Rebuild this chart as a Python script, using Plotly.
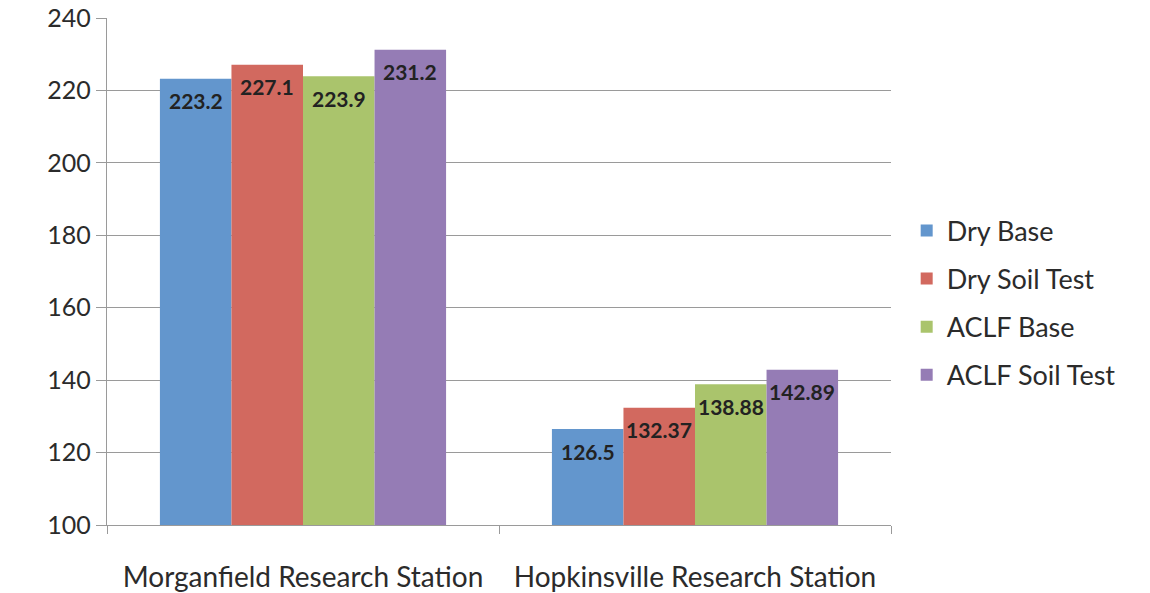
import plotly.graph_objects as go

stations = ["Morganfield Research Station", "Hopkinsville Research Station"]
series_names = ["Dry Base", "Dry Soil Test", "ACLF Base", "ACLF Soil Test"]
dry_base = [223.2, 126.5]
dry_soil = [227.1, 132.37]
aclf_base = [223.9, 138.88]
aclf_soil = [231.2, 142.89]
labels_dry_base = ["223.2", "126.5"]
labels_dry_soil = ["227.1", "132.37"]
labels_aclf_base = ["223.9", "138.88"]
labels_aclf_soil = ["231.2", "142.89"]
colors = ["#6396CD", "#D2695F", "#AAC46C", "#957CB5"]

values = [dry_base, dry_soil, aclf_base, aclf_soil]
labels = [labels_dry_base, labels_dry_soil, labels_aclf_base, labels_aclf_soil]

W, H = 1150, 593
ML, MR, MT, MB = 107, 259, 18, 68
BARGAP = 0.27
plot_w = W - ML - MR
n_series = len(series_names)
bar_px = plot_w / len(stations) * (1 - BARGAP) / n_series

fig = go.Figure()
for i, (name, vals, labs, col) in enumerate(zip(series_names, values, labels, colors)):
    fig.add_trace(go.Bar(
        name=name, x=stations, y=[v - 100 for v in vals], base=100,
        marker=dict(color=col, line=dict(width=0)),
        legendgroup=name,
        hoverinfo="skip",
    ))
    for st, v, lab in zip(stations, vals, labs):
        fig.add_annotation(
            x=st, y=v, xref="x", yref="y", text=lab, showarrow=False,
            xshift=(i - (n_series - 1) / 2) * bar_px, yshift=-22,
            yanchor="middle", xanchor="center",
            font=dict(family="Lato", size=21, color="#222222", weight="bold"),
        )

fig.update_layout(
    width=W, height=H,
    margin=dict(l=ML, r=MR, t=MT, b=MB, autoexpand=False),
    barmode="group", bargap=BARGAP, bargroupgap=0,
    plot_bgcolor="white", paper_bgcolor="white",
    font=dict(family="Lato", color="#2b2b2b"),
    showlegend=True,
    legend=dict(x=1.02, y=0.438, xanchor="left", yanchor="middle",
                font=dict(size=27, color="#2b2b2b"), tracegroupgap=10,
                itemwidth=30, bgcolor="rgba(0,0,0,0)"),
)
fig.update_yaxes(range=[100, 240], dtick=20, showgrid=True, gridcolor="#9a9a9a",
                 gridwidth=1.2, showline=True, linecolor="#9a9a9a", linewidth=1.2,
                 ticks="outside", ticklen=10, tickcolor="#9a9a9a",
                 tickfont=dict(size=25, color="#2b2b2b"), zeroline=False,
                 ticklabeloverflow="allow", automargin=False)
fig.update_xaxes(showline=True, linecolor="#9a9a9a", linewidth=1.2,
                 ticks="outside", tickson="boundaries", ticklen=8, tickcolor="#9a9a9a",
                 tickfont=dict(size=28, color="#2b2b2b"), ticklabelstandoff=27,
                 ticklabeloverflow="allow", automargin=False)

fig.write_html("out.html",
               config={"displayModeBar": False, "staticPlot": True},
               post_script="document.body.style.margin='0';document.body.style.overflow='hidden';")
